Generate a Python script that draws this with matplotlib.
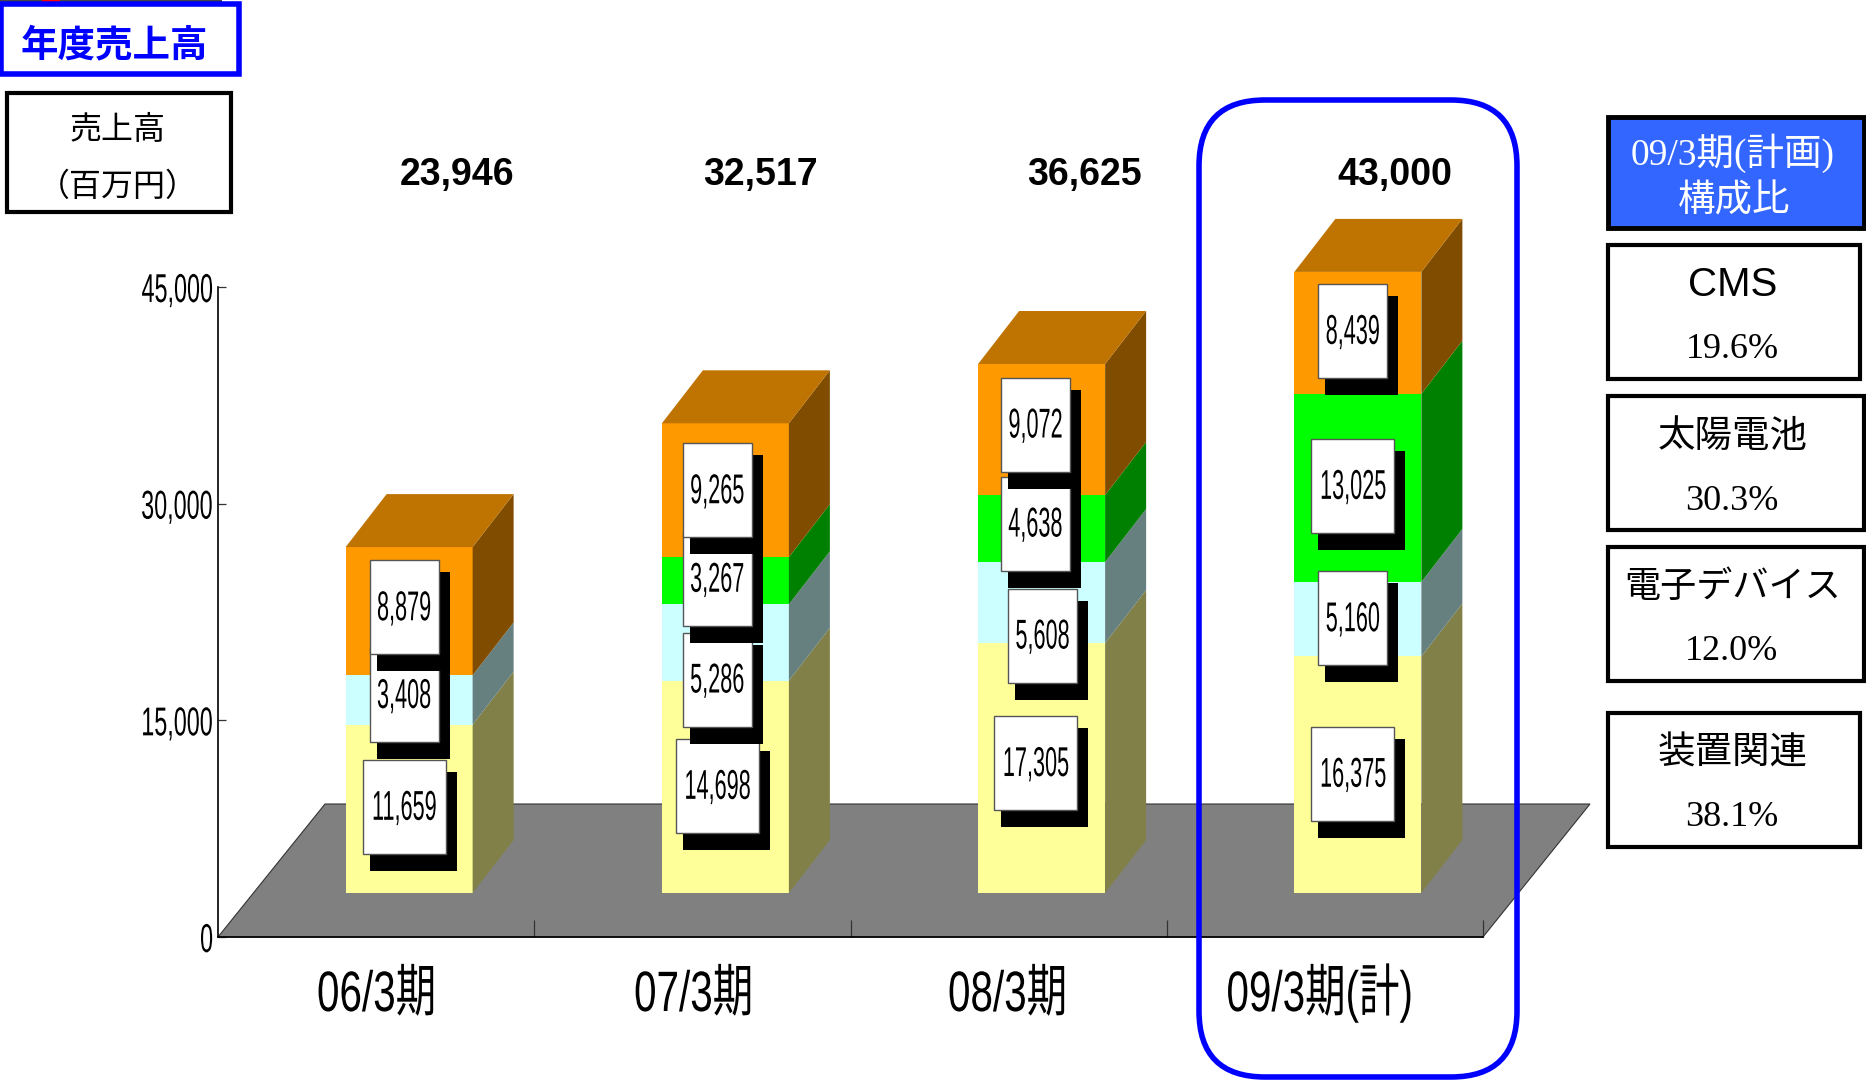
import matplotlib
matplotlib.use("Agg")
import matplotlib.pyplot as plt
from matplotlib.patches import FancyBboxPatch, Rectangle
from matplotlib.patheffects import AbstractPathEffect
from matplotlib.transforms import Affine2D

categories = ["06/3期", "07/3期", "08/3期", "09/3期(計)"]
totals = ["23,946", "32,517", "36,625", "43,000"]

# 積み上げの値 (下から順に)
souchi = [11659, 14698, 17305, 16375]
denshi = [3408, 5286, 5608, 5160]
taiyo = [0, 3267, 4638, 13025]
cms = [8879, 9265, 9072, 8439]

y_ticks = [0, 15000, 30000, 45000]
y_tick_labels = ["0", "15,000", "30,000", "45,000"]

share_names = ["CMS", "太陽電池", "電子デバイス", "装置関連"]
share_values = ["19.6%", "30.3%", "12.0%", "38.1%"]

W, H = 1866, 1081
SANS = ["Liberation Sans", "Noto Sans CJK JP"]
SERIF = ["Liberation Serif", "Noto Sans CJK JP"]
GOTHIC = ["Noto Sans CJK JP", "DejaVu Sans"]

# 見た目の3D: 床の奥行き (px) と棒の位置
AX_L, AX_R, AX_B, AX_T = 218, 1483, 937, 287
FLOOR_DX, FLOOR_DY = 107, 133
X_UNIT = 4 / (AX_R - AX_L)
Y_UNIT = 45000 / (AX_B - AX_T)
BAR_SHIFT_X, BAR_SHIFT_Y = 33 * X_UNIT, 44 * Y_UNIT
BAR_DEPTH_X, BAR_DEPTH_Y = 41 * X_UNIT, 53 * Y_UNIT
BAR_WIDTH = 127 * X_UNIT


class Squeeze(AbstractPathEffect):
    # 長体の文字 (テキストのまま横方向だけ縮める)
    def __init__(self, sx, anchor="center"):
        super().__init__()
        self.sx = sx
        self.anchor = anchor

    def draw_path(self, renderer, gc, tpath, affine, rgbFace=None):
        box = tpath.get_extents()
        cx = box.x1 if self.anchor == "right" else (box.x0 + box.x1) / 2
        t = Affine2D().translate(-cx, 0).scale(self.sx, 1).translate(cx, 0)
        renderer.draw_path(gc, tpath, t + affine, rgbFace)


fig = plt.figure(figsize=(W / 100, H / 100), dpi=100, facecolor="white")
ax = fig.add_axes([AX_L / W, 1 - AX_B / H, (AX_R - AX_L) / W, (AX_B - AX_T) / H])
ax.set_xlim(0, 4)
ax.set_ylim(0, 45000)
ax.patch.set_alpha(0)

# 床
fdx, fdy = FLOOR_DX * X_UNIT, FLOOR_DY * Y_UNIT
ax.fill([0, 4, 4 + fdx, fdx], [0, 0, fdy, fdy], color="#808080", ec="#333333", lw=0.8,
        zorder=1, clip_on=False)

# 軸
for side in ["top", "right"]:
    ax.spines[side].set_visible(False)
for side in ["left", "bottom"]:
    ax.spines[side].set_linewidth(1.2)
ax.set_xticks([1, 2, 3, 4])
ax.set_xticklabels([])
ax.set_yticks(y_ticks)
ax.set_yticklabels(y_tick_labels, family=SANS, fontsize=29)
for lab in ax.get_yticklabels():
    lab.set_path_effects([Squeeze(0.58, anchor="right")])
ax.tick_params(axis="x", direction="in", length=12, width=0.9, color="#333333")
ax.tick_params(axis="y", direction="in", length=6, width=0.9, color="#333333", pad=3)

series = [
    (souchi, "#FFFF99", "#808048"),
    (denshi, "#CCFFFF", "#668080"),
    (taiyo, "#00FF00", "#008000"),
    (cms, "#FF9900", "#804C00"),
]

# 値ラベルの位置ずれ (px): 棒中心からのx, 区間中央からのy (下が正)
label_dx = [
    [-5, -8, -6, -5],
    [-5, -8, 1, -5],
    [-5, -8, -6, -5],
    [-5, -8, -6, -5],
]
label_dy = [
    [-2, -1, -5, -1],
    [-5, 37, 33, -1],
    [0, -2, -5, -2],
    [-4, 0, -5, -2],
]

for i in range(len(categories)):
    left = i + 0.5 - BAR_WIDTH / 2 + BAR_SHIFT_X
    right = left + BAR_WIDTH
    bottom = BAR_SHIFT_Y
    for values, front, dark in series:
        v = values[i]
        if v == 0:
            continue
        # 前面
        ax.bar(left, v, BAR_WIDTH, bottom=bottom, align="edge", color=front, lw=0,
               zorder=3, clip_on=False)
        # 側面
        ax.fill(
            [right, right + BAR_DEPTH_X, right + BAR_DEPTH_X, right],
            [bottom, bottom + BAR_DEPTH_Y, bottom + v + BAR_DEPTH_Y, bottom + v],
            color=dark, lw=0, zorder=3, clip_on=False,
        )
        bottom += v
    # 上面
    ax.fill(
        [left, right, right + BAR_DEPTH_X, left + BAR_DEPTH_X],
        [bottom, bottom, bottom + BAR_DEPTH_Y, bottom + BAR_DEPTH_Y],
        color="#BF7300", lw=0, zorder=3, clip_on=False,
    )

    # 値ラベル (下から順に重ねる)
    bottom = BAR_SHIFT_Y
    for j, (values, front, dark) in enumerate(series):
        v = values[i]
        if v == 0:
            continue
        cx = (left + right) / 2 + label_dx[j][i] * X_UNIT
        cy = bottom + v / 2 - label_dy[j][i] * Y_UNIT
        bw = (83 if v >= 10000 else 69) * X_UNIT
        bh = 94 * Y_UNIT
        z = 4 + j * 0.1
        ax.add_patch(Rectangle((cx - bw / 2 + 7 * X_UNIT, cy - bh / 2 - 17 * Y_UNIT),
                               bw + 4 * X_UNIT, bh + 5 * Y_UNIT,
                               fc="black", lw=0, zorder=z, clip_on=False))
        ax.add_patch(Rectangle((cx - bw / 2, cy - bh / 2), bw, bh,
                               fc="white", ec="#555555", lw=1, zorder=z + 0.01, clip_on=False))
        t = ax.text(cx, cy - 2 * Y_UNIT, f"{v:,}", family=SANS, fontsize=30, ha="center",
                    va="center", zorder=z + 0.02)
        t.set_path_effects([Squeeze(0.52)])
        bottom += v

# 注記用の全面 axes (px座標)
over = fig.add_axes([0, 0, 1, 1])
over.set_xlim(0, W)
over.set_ylim(H, 0)
over.axis("off")


def box(x0, y0, x1, y1, ec="black", fc="white", lw=3):
    over.add_patch(Rectangle((x0, y0), x1 - x0, y1 - y0, fc=fc, ec=ec, lw=lw))


# 上端のはみ出し
over.add_patch(Rectangle((0, 0), 222, 2, fc="#444444", lw=0))
over.add_patch(Rectangle((42, 0), 18, 2, fc="red", lw=0))

box(1, 4, 239, 74, ec="#0000FF", lw=4)
over.text(114, 45, "年度売上高", family=GOTHIC, fontsize=27, weight="bold", color="#0000FF",
          ha="center", va="center")
box(7, 93, 231, 212)
over.text(118, 130, "売上高", family=GOTHIC, fontsize=23, ha="center", va="center")
over.text(118, 187, "（百万円）", family=GOTHIC, fontsize=23, ha="center", va="center")

# 合計
for x, t in zip([457, 760, 1084, 1395], totals):
    over.text(x, 175, t, family="Liberation Sans", weight="bold", fontsize=27, ha="center", va="center")

# カテゴリ
for x, c in zip([377, 694, 1008, 1320], categories):
    t = over.text(x, 1011, c, family=SANS, fontsize=41, ha="center", va="baseline")
    t.set_path_effects([Squeeze(0.71)])

# 09/3期の枠
over.add_patch(FancyBboxPatch((1199 + 66, 100 + 66), 318 - 132, 977 - 132,
                              boxstyle="round,pad=66,rounding_size=66", fc="none",
                              ec="#0000FF", lw=4))

# 右側の構成比
box(1608, 117, 1864, 228, fc="#3366FF", lw=3.5)
over.text(1733, 153, "09/3期(計画)", family=SERIF, color="white", fontsize=27, ha="center", va="center")
over.text(1734, 201, "構成比", family=GOTHIC, color="white", fontsize=27, ha="center", va="center")

box_tops = [245, 396, 547, 713]
box_rights = [1860, 1864, 1864, 1860]
name_sizes = [29, 27, 26, 27]
for top, r, name, val, fs in zip(box_tops, box_rights, share_names, share_values, name_sizes):
    box(1608, top, r, top + 134)
    font = "Liberation Sans" if name == "CMS" else GOTHIC
    over.text(1733, top + 40, name, family=font, fontsize=fs, ha="center", va="center")
    over.text(1732, top + 105, val, family=SERIF, fontsize=26, ha="center", va="center")

plt.savefig("out.png", dpi=100)
plt.close()
